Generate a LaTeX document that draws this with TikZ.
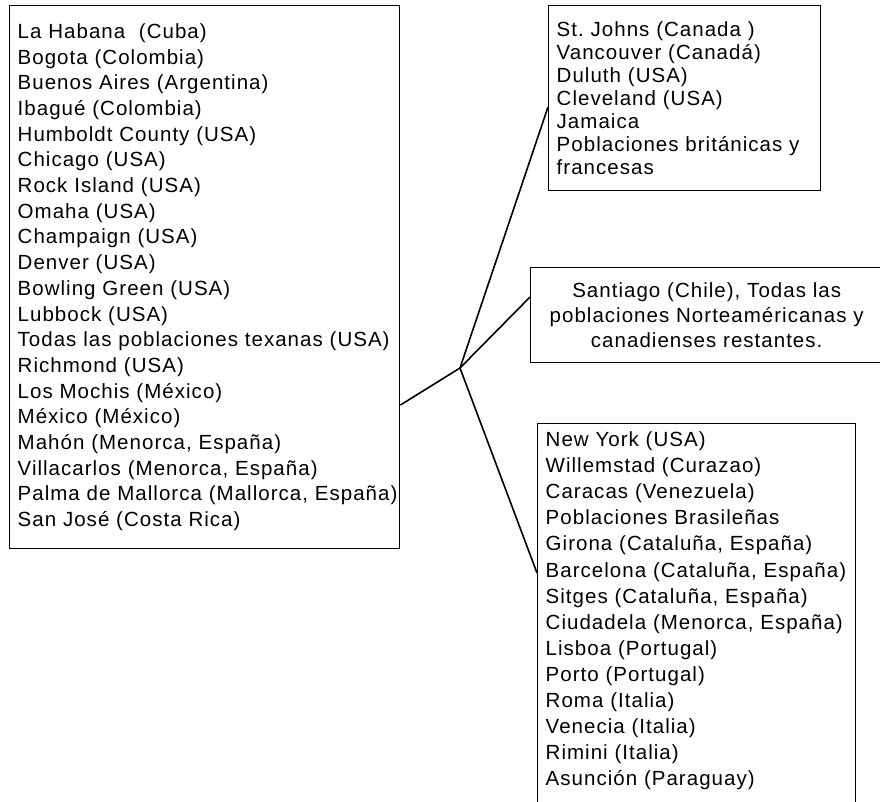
\documentclass[tikz,border=0pt]{standalone}
\usepackage{fontspec}
\setmainfont[LetterSpace=5]{Liberation Sans}
\usepackage{tikz}
\usetikzlibrary{calc}

\begin{document}
\begin{tikzpicture}[x=1pt,y=-1pt,
	listbox/.style={rectangle,draw,line width=1.4pt,anchor=north west,
		inner xsep=8pt,inner ysep=8pt,align=left},
	branch/.style={line width=1.6pt}]

		\useasboundingbox (0,0) rectangle (880,801);

		\node[listbox,text width=374pt,minimum height=543pt,
			font=\fontsize{20.5}{25.7}\selectfont] (lista) at (9,5)
			{La Habana\ \ (Cuba)\\ Bogota (Colombia)\\ Buenos Aires (Argentina)\\
			Ibagué (Colombia)\\ Humboldt County (USA)\\ Chicago (USA)\\
			Rock Island (USA)\\ Omaha (USA)\\ Champaign (USA)\\ Denver (USA)\\
			Bowling Green (USA)\\ Lubbock (USA)\\ \mbox{Todas las poblaciones texanas (USA)}\\
			Richmond (USA)\\ Los Mochis (México)\\ México (México)\\
			Mahón (Menorca, España)\\ Villacarlos (Menorca, España)\\
			\mbox{Palma de Mallorca (Mallorca, España)}\\ San José (Costa Rica)};
		\node[listbox,text width=256pt,minimum height=185pt,
			font=\fontsize{20.5}{23}\selectfont] (norte) at (548,5)
			{St.\ Johns (Canada )\\ Vancouver (Canadá)\\ Duluth (USA)\\
			Cleveland (USA)\\ Jamaica\\ \mbox{Poblaciones británicas y}\\ francesas};
		\node[listbox,align=center,text width=336pt,minimum height=95pt,
			font=\fontsize{20.5}{25}\selectfont] (chile) at (530,267)
			{Santiago (Chile), Todas las\\ \mbox{poblaciones Norteaméricanas y}\\
			canadienses restantes.};
		\node[listbox,text width=302pt,
			font=\fontsize{20.5}{26.1}\selectfont] (resto) at (537,423)
			{New York (USA)\\ Willemstad (Curazao)\\ Caracas (Venezuela)\\
			Poblaciones Brasileñas\\ Girona (Cataluña, España)\\
			\mbox{Barcelona (Cataluña, España)}\\ Sitges (Cataluña, España)\\
			\mbox{Ciudadela (Menorca, España)}\\ Lisboa (Portugal)\\ Porto (Portugal)\\
			Roma (Italia)\\ Venecia (Italia)\\ Rimini (Italia)\\
			Asunción (Paraguay)\rule[-25pt]{0pt}{0pt}};

		\coordinate (nudo) at (460,368);

		\path[branch] (nudo) edge ($(lista.north east)+(0,400)$);
		\path[branch] (nudo) edge ($(norte.north west)+(0,102)$);
		\path[branch] (nudo) edge ($(chile.north west)+(0,30)$);
		\path[branch] (nudo) edge ($(resto.north west)+(0,150)$);

	\end{tikzpicture}
\end{document}
